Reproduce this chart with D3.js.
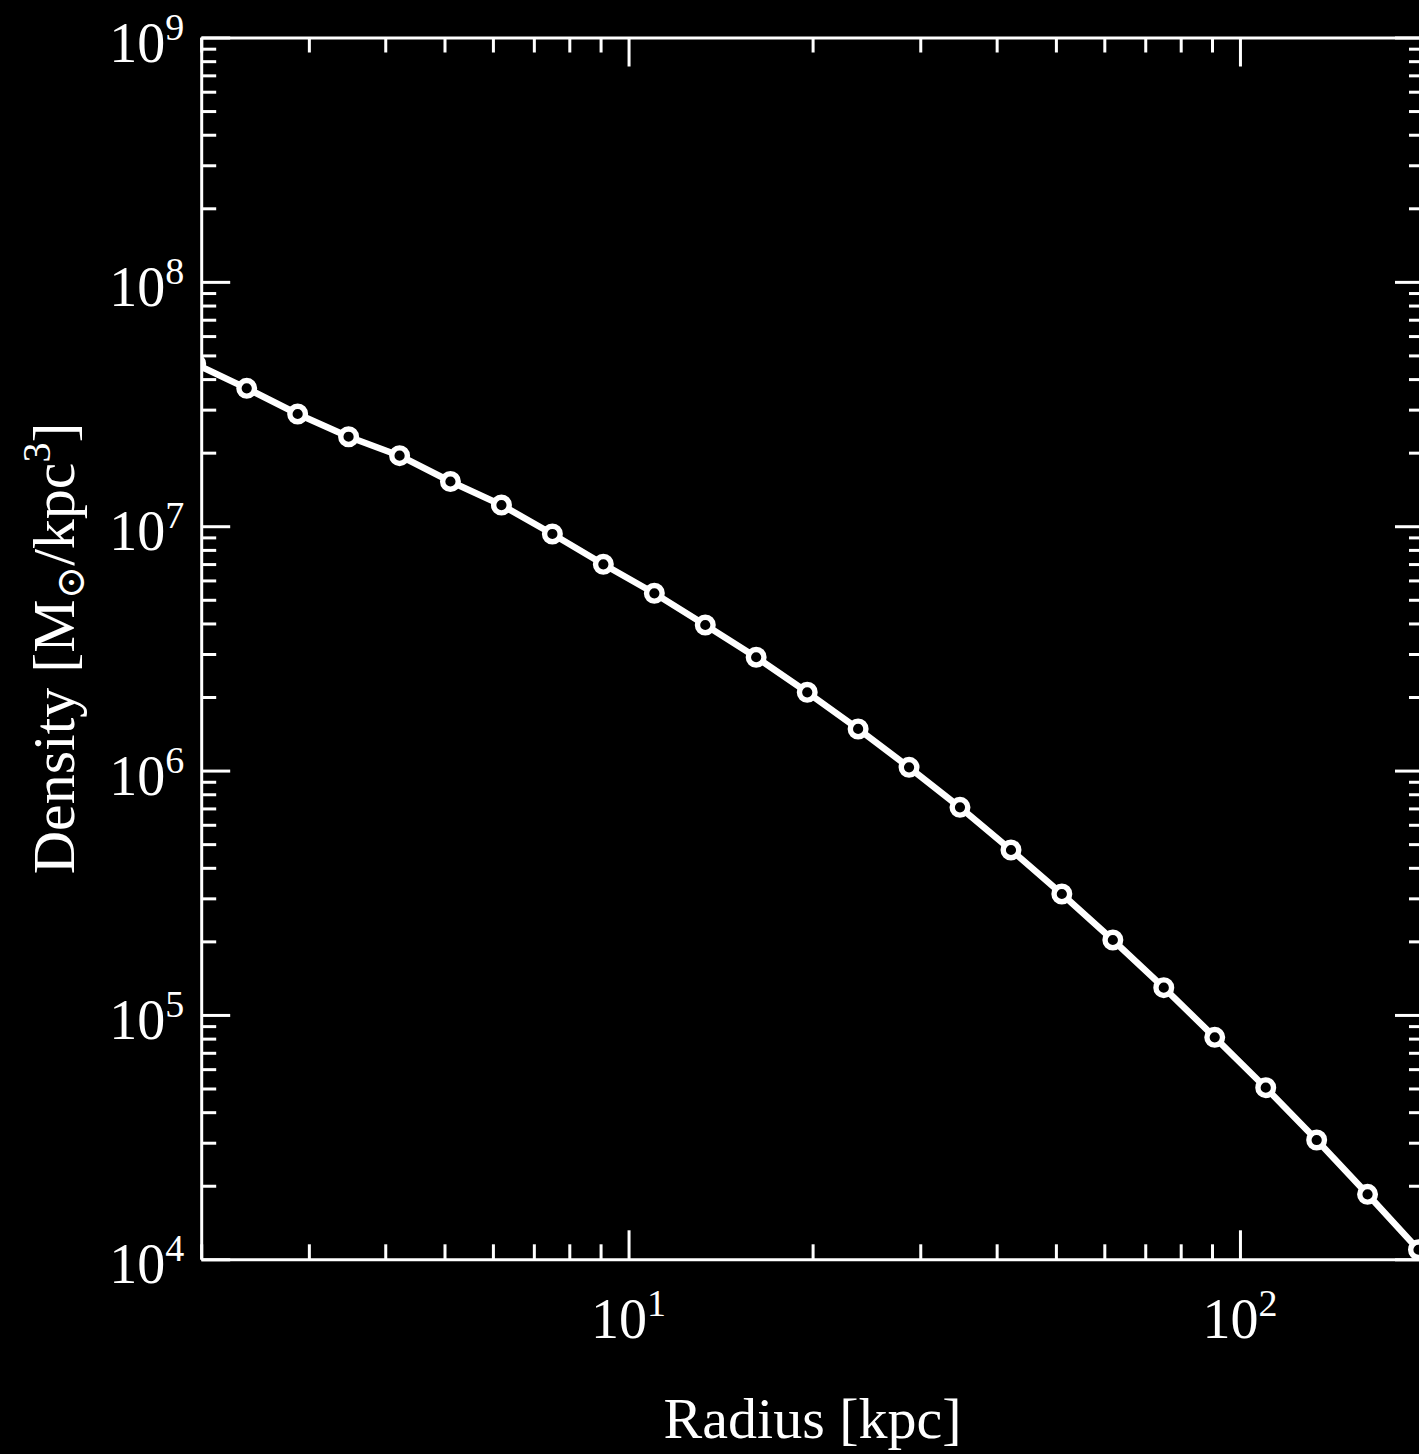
<!DOCTYPE html>
<html>
<head>
<meta charset="utf-8">
<script src="https://cdn.jsdelivr.net/npm/d3@7"></script>
<style>
  html, body { margin: 0; padding: 0; background: #000; }
  svg { display: block; }
  text { font-family: "Liberation Serif", "DejaVu Serif", serif; fill: #fff; }
</style>
</head>
<body>
<svg id="chart" width="1419" height="1454"></svg>
<script>
// ---- data ----
const radius = [1.959, 2.374, 2.876, 3.484, 4.222, 5.113, 6.196, 7.506, 9.094, 11.02, 13.35,
  16.17, 19.60, 23.74, 28.76, 34.84, 42.22, 51.13, 61.96, 75.06, 90.94, 110.2, 133.5, 161.7, 195.9];
const density = [4.61e7, 3.667e7, 2.879e7, 2.324e7, 1.944e7, 1.524e7, 1.221e7, 9.295e6, 6.986e6,
  5.315e6, 3.942e6, 2.909e6, 2.091e6, 1.480e6, 1.031e6, 7.073e5, 4.732e5, 3.125e5, 2.026e5,
  1.293e5, 8.10e4, 5.038e4, 3.077e4, 1.845e4, 1.094e4];

const xDomain = [2, 200];
const yDomain = [1e4, 1e9];
const xTickValues = [10, 100];
const xTickExps = ["1", "2"];
const yTickValues = [1e4, 1e5, 1e6, 1e7, 1e8, 1e9];
const yTickExps = ["4", "5", "6", "7", "8", "9"];
const xLabel = "Radius [kpc]";

// ---- layout ----
const mLeft = 201.2, mRight = 1424, mTop = 37.5, mBottom = 1259.3;
const FS = 56, SUP = 38;

const svg = d3.select("#chart");
svg.append("rect").attr("width", 1419).attr("height", 1454).attr("fill", "#000");

const x = d3.scaleLog().domain(xDomain).range([mLeft, mRight]);
const y = d3.scaleLog().domain(yDomain).range([mBottom, mTop]);

const isMajor = v => Math.abs(Math.log10(v) - Math.round(Math.log10(v))) < 1e-9;
const xMinor = x.ticks().filter(v => !isMajor(v));
const yMinor = y.ticks().filter(v => !isMajor(v));

svg.append("defs").append("clipPath").attr("id", "clip")
  .append("rect").attr("x", mLeft).attr("y", mTop)
  .attr("width", mRight - mLeft).attr("height", mBottom - mTop);

const plot = svg.append("g").attr("clip-path", "url(#clip)");

const pts = radius.map((r, i) => [r, density[i]]);
plot.append("path")
  .datum(pts)
  .attr("fill", "none")
  .attr("stroke", "#fff")
  .attr("stroke-width", 6.5)
  .attr("stroke-linejoin", "round")
  .attr("d", d3.line().x(d => x(d[0])).y(d => y(d[1])));

plot.selectAll("circle.m")
  .data(pts)
  .join("circle")
  .attr("class", "m")
  .attr("cx", d => x(d[0]))
  .attr("cy", d => y(d[1]))
  .attr("r", 7.8)
  .attr("fill", "#000")
  .attr("stroke", "#fff")
  .attr("stroke-width", 5.4);

// ---- axes (ticks inward on all four sides) ----
function drawAxis(axisFn, scale, transform, majors, minors) {
  const gMaj = svg.append("g").attr("transform", transform).style("color", "#fff")
    .call(axisFn(scale).tickValues(majors).tickSizeInner(-29).tickSizeOuter(0).tickFormat(""));
  gMaj.select(".domain").attr("stroke-width", 3);
  gMaj.selectAll(".tick line").attr("stroke-width", 3);
  const gMin = svg.append("g").attr("transform", transform).style("color", "#fff")
    .call(axisFn(scale).tickValues(minors).tickSizeInner(-15).tickSizeOuter(0).tickFormat(""));
  gMin.select(".domain").remove();
  gMin.selectAll(".tick line").attr("stroke-width", 3);
}
drawAxis(d3.axisBottom, x, `translate(0,${mBottom})`, xTickValues, xMinor);
drawAxis(d3.axisTop, x, `translate(0,${mTop})`, xTickValues, xMinor);
drawAxis(d3.axisLeft, y, `translate(${mLeft},0)`, yTickValues, yMinor);
drawAxis(d3.axisRight, y, `translate(${mRight},0)`, yTickValues, yMinor);

// ---- tick labels ----
xTickValues.forEach((v, i) => {
  const t = svg.append("text")
    .attr("x", x(v)).attr("y", mBottom + 79)
    .attr("text-anchor", "middle")
    .style("font-size", FS + "px");
  t.append("tspan").text("10");
  t.append("tspan").attr("dy", -22).style("font-size", SUP + "px").text(xTickExps[i]);
});
yTickValues.forEach((v, i) => {
  const t = svg.append("text")
    .attr("x", mLeft - 17).attr("y", y(v) + 24)
    .attr("text-anchor", "end")
    .style("font-size", FS + "px");
  t.append("tspan").text("10");
  t.append("tspan").attr("dy", -22).style("font-size", SUP + "px").text(yTickExps[i]);
});

// ---- axis labels ----
svg.append("text")
  .attr("x", (mLeft + mRight) / 2).attr("y", 1438)
  .attr("text-anchor", "middle")
  .style("font-size", "58px")
  .text(xLabel);

const yl = svg.append("text")
  .attr("transform", `translate(74,${(mTop + mBottom) / 2}) rotate(-90)`)
  .attr("text-anchor", "middle")
  .style("font-size", "60px");
yl.append("tspan").text("Density [M");
yl.append("tspan").attr("dy", 10).style("font-size", "40px").text("\u2299");
yl.append("tspan").attr("dy", -10).text("/kpc");
yl.append("tspan").attr("dy", -24).style("font-size", "40px").text("3");
yl.append("tspan").attr("dy", 24).text("]");
</script>
</body>
</html>
